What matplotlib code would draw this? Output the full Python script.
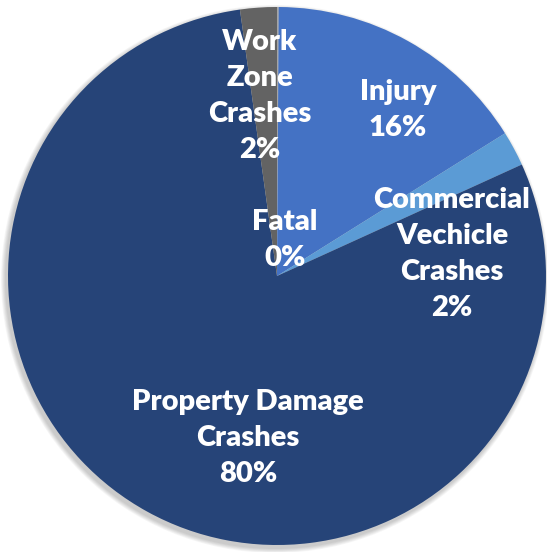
import matplotlib.pyplot as plt
from matplotlib.patches import Circle

# crash categories, clockwise from 12 o'clock
categories = ['Fatal', 'Injury', 'Commercial\nVechicle\nCrashes',
              'Property Damage\nCrashes', 'Work\nZone\nCrashes']
shares = [0.1, 16.0, 2.1, 79.6, 2.2]
colors = ['#A5A5A5', '#4472C4', '#5B9BD5', '#264478', '#636363']

# label centres in pixel space (x, y from top)
label_pos = [(285, 240), (398, 110), (452, 254), (248, 438), (260, 96)]

W, H = 547, 552
cx, cy, r = 277, 276, 269

fig = plt.figure(figsize=(W / 100, H / 100), dpi=100)
ax = fig.add_axes([0, 0, 1, 1])

# soft drop shadow
for k in range(6):
    ax.add_patch(Circle((cx - 2, H - cy - 3), r + 1 + k * 0.8,
                        color='black', alpha=0.035, lw=0, zorder=0))

ax.pie(shares, colors=colors, startangle=90, counterclock=False,
       center=(cx, H - cy), radius=r,
       wedgeprops=dict(linewidth=0), frame=True)
ax.set_xlim(0, W)
ax.set_ylim(0, H)
ax.set_aspect('equal')
ax.axis('off')

for name, val, (x, y) in zip(categories, shares, label_pos):
    ax.text(x, H - y, f"{name}\n{round(val)}%", ha='center', va='center',
            color='white', fontsize=21, fontweight='heavy', family='Lato',
            linespacing=1.48)

fig.savefig('out.png', dpi=100)
